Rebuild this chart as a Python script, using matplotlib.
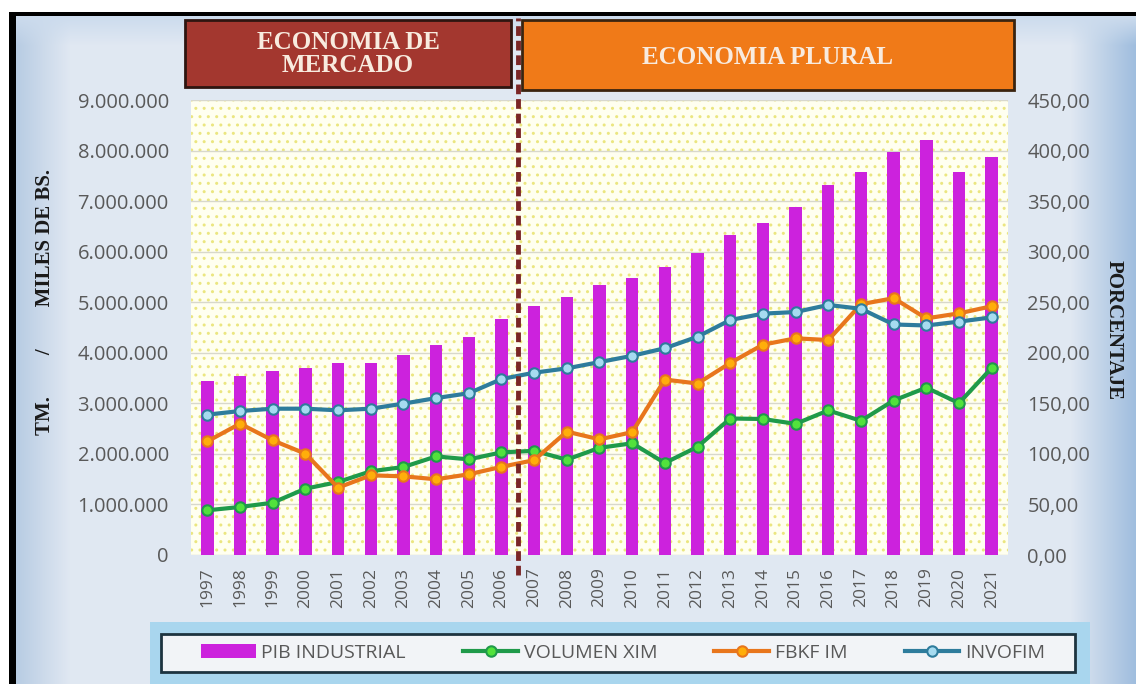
import numpy as np
import matplotlib
matplotlib.use("Agg")
import matplotlib.pyplot as plt
import matplotlib.transforms as mtransforms
from matplotlib.patches import Rectangle
from matplotlib.ticker import FuncFormatter, MultipleLocator

# data
years = [str(y) for y in range(1997, 2022)]
pib_industrial = [3450000, 3540000, 3630000, 3690000, 3800000, 3800000, 3960000,
                  4160000, 4310000, 4660000, 4930000, 5110000, 5340000, 5480000,
                  5690000, 5970000, 6330000, 6570000, 6890000, 7320000, 7570000,
                  7980000, 8210000, 7570000, 7870000]
volumen_xim = [44.2, 47.5, 51.7, 65.6, 72.2, 82.8, 87.0, 97.5, 94.6, 101.5, 103.0,
               94.3, 106.0, 110.5, 91.0, 107.0, 135.0, 134.5, 129.7, 143.0, 132.7,
               152.8, 165.5, 150.2, 185.0]
fbkf_im = [112.4, 129.9, 113.4, 100.2, 66.6, 78.8, 77.8, 74.9, 79.8, 87.2, 93.8,
           122.0, 114.4, 121.5, 173.5, 169.6, 189.9, 208.0, 214.3, 212.6, 248.0,
           254.0, 234.0, 239.0, 246.0]
invofim = [138.8, 142.4, 144.7, 144.7, 143.1, 144.7, 149.7, 155.2, 160.0, 174.0,
           180.3, 184.6, 190.8, 197.0, 204.5, 215.9, 232.4, 238.7, 240.3, 247.3,
           243.5, 228.0, 227.0, 230.8, 235.0]
split_after = "2006"  # last year of "economia de mercado"

W, H = 1136, 684
fig = plt.figure(figsize=(W / 100, H / 100), dpi=100)

# background panel (pixel coordinates)
bg = fig.add_axes([0, 0, 1, 1], zorder=-10)
bg.set_xlim(0, W)
bg.set_ylim(H, 0)
bg.axis("off")

xx = np.arange(W)[None, :]
yy = np.arange(H)[:, None]
base = np.array([0.88, 0.91, 0.95])
img = np.ones((H, W, 3)) * base
left_t = np.clip((70 - xx) / 54.0, 0, 1)[..., None]
img = img * (1 - left_t) + np.array([0.72, 0.80, 0.89]) * left_t
right_t = np.clip((xx - 1070) / 66.0, 0, 1)[..., None]
img = img * (1 - right_t) + np.array([0.62, 0.74, 0.87]) * right_t
top_t = np.clip((45 - yy) / 29.0, 0, 1)[..., None]
img = img * (1 - top_t) + np.array([0.80, 0.86, 0.93]) * top_t
img[:, :9] = 1.0
img[:12, :] = 1.0
img[12:16, 9:] = 0.0
img[12:, 9:16] = 0.0
bg.imshow(img, extent=[0, W, H, 0], aspect="auto", interpolation="bilinear")

# header boxes
bg.add_patch(Rectangle((185, 20), 326, 67, facecolor="#a3372f", edgecolor="#2e1510", lw=2))
bg.text(348, 54, "ECONOMIA DE\nMERCADO", ha="center", va="center", color="#f8ebdf",
        family="Liberation Serif", weight="bold", fontsize=18, linespacing=0.95)
bg.add_patch(Rectangle((522, 20), 492, 70, facecolor="#f07a18", edgecolor="#3a2410", lw=2))
bg.text(768, 57, "ECONOMIA PLURAL", ha="center", va="center", color="#f8ebdf",
        family="Liberation Serif", weight="bold", fontsize=18)

# legend glow and frame
bg.add_patch(Rectangle((150, 622), 940, 62, facecolor="#a9d6ee", edgecolor="none"))
bg.add_patch(Rectangle((161, 634), 914, 38, facecolor="#f2f4f7", edgecolor="#1d3440", lw=2))

# main axes
ax = fig.add_axes([191 / W, 129 / H, 817 / W, 455 / H])
ax.patch.set_alpha(0)
ax.add_patch(Rectangle((0, 0), 1, 1, transform=ax.transAxes, facecolor="#fffff0",
                       edgecolor="#ebe680", hatch="..", lw=0, zorder=0))
x = np.arange(len(years))
bars = ax.bar(x, pib_industrial, width=0.38, color="#cc22dd", zorder=2, label="PIB INDUSTRIAL")
ax.set_xlim(-0.5, len(years) - 0.5)
ax.set_ylim(0, 9000000)
ax.yaxis.set_major_locator(MultipleLocator(1000000))
ax.yaxis.set_major_formatter(FuncFormatter(lambda v, p: f"{v:,.0f}".replace(",", ".")))
ax.yaxis.grid(True, color="#d8d8cc", lw=1, zorder=1)
ax.set_axisbelow(True)
ax.set_xticks(x)
ax.set_xticklabels(years, rotation=90)
for s in ax.spines.values():
    s.set_visible(False)
ax.tick_params(axis="both", length=0, colors="#595959", labelsize=14.5)
ax.tick_params(axis="y", pad=16)
ax.tick_params(axis="x", pad=9, labelsize=12.5)
for lab in ax.get_xticklabels() + ax.get_yticklabels():
    lab.set_family("Open Sans")

ax2 = ax.twinx()
ax2.set_ylim(0, 450)
ax2.yaxis.set_major_locator(MultipleLocator(50))
ax2.yaxis.set_major_formatter(FuncFormatter(lambda v, p: f"{v:.2f}".replace(".", ",")))
for s in ax2.spines.values():
    s.set_visible(False)
ax2.tick_params(axis="y", length=0, colors="#595959", labelsize=14.5, pad=14)
for lab in ax2.get_yticklabels():
    lab.set_family("Open Sans")

l1, = ax2.plot(x, volumen_xim, color="#1f9a4a", lw=3, marker="o", ms=7.5,
               mfc="#52e23c", mec="#1f9a4a", mew=1.5, label="VOLUMEN XIM", zorder=3)
l2, = ax2.plot(x, fbkf_im, color="#e8761c", lw=3, marker="o", ms=7.5,
               mfc="#ffae0a", mec="#e8761c", mew=1.5, label="FBKF IM", zorder=3)
l3, = ax2.plot(x, invofim, color="#2e7c9c", lw=3, marker="o", ms=7.5,
               mfc="#a6dbf0", mec="#2e7c9c", mew=1.5, label="INVOFIM", zorder=3)

# dashed divider between the two periods
split_x = years.index(split_after) + 0.5
trans = mtransforms.blended_transform_factory(ax2.transData, ax2.transAxes)
ax2.plot([split_x, split_x], [-0.044, 1.18], transform=trans, color="#7a2626", lw=3.5,
         dashes=(2, 1), clip_on=False, zorder=6)

# axis titles
fig.text(45 / W, 1 - 302 / H, "TM.        /        MILES DE BS.", rotation=90,
         ha="center", va="center", family="Liberation Serif", weight="bold",
         fontsize=15, color="#1a1a1a")
fig.text(1114 / W, 1 - 330 / H, "PORCENTAJE", rotation=-90, ha="center", va="center",
         family="Liberation Serif", weight="bold", fontsize=15, color="#1a1a1a")

leg = fig.legend([bars, l1, l2, l3], ["PIB INDUSTRIAL", "VOLUMEN XIM", "FBKF IM", "INVOFIM"],
                 loc="center", bbox_to_anchor=(623 / W, 1 - 653 / H), ncol=4, frameon=False,
                 handlelength=2.8, columnspacing=2.95, handletextpad=0.3,
                 prop={"family": "Open Sans", "size": 14})
for t in leg.get_texts():
    t.set_color("#595959")

fig.savefig("out.png", dpi=100)
